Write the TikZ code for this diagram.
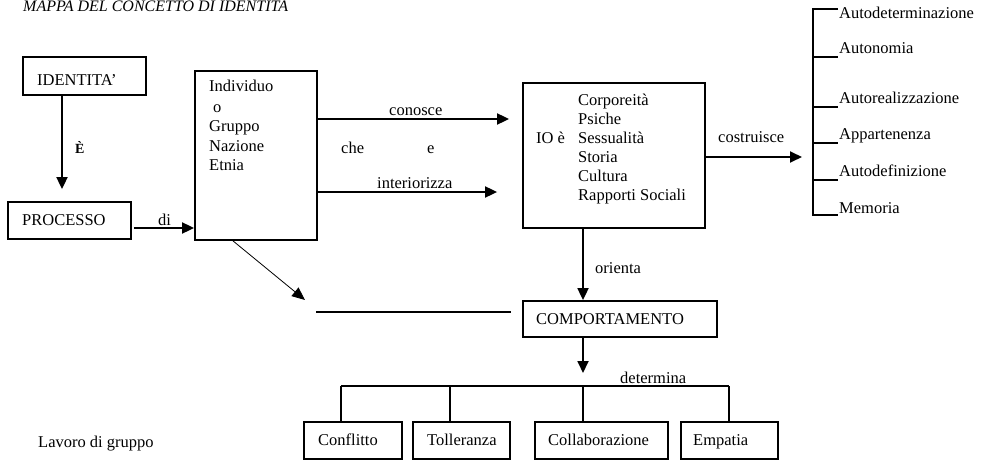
\documentclass[tikz,border=0pt]{standalone}
\usepackage{fontspec}
\setmainfont{Liberation Serif}
\usetikzlibrary{arrows.meta}
\begin{document}
\begin{tikzpicture}[x=1pt,y=-1pt,
  every node/.style={font=\fontsize{16.5}{19.7}\selectfont, inner sep=0pt, text=black},
  box/.style={draw, line width=1.8pt, inner sep=0pt},
  lbl/.style={anchor=base west},
  ln/.style={line width=1.8pt},
  arr/.style={line width=1.8pt, -{Triangle[length=12pt,width=11pt]}},
  thinarr/.style={line width=0.8pt, -{Triangle[length=13pt,width=11pt]}},
]
\useasboundingbox (0,0) rectangle (982,460);

% title
\node[lbl, font=\itshape\fontsize{16}{19}\selectfont] (title) at (23,12) {MAPPA DEL CONCETTO DI IDENTITA};

% boxes
\node[box, minimum width=123, minimum height=38] (idb) at (84.5,76) {};
\node[box, minimum width=123, minimum height=37] (proc) at (69.5,220.5) {};
\node[box, minimum width=122, minimum height=169] (indiv) at (256,155.5) {};
\node[box, minimum width=182, minimum height=145] (io) at (614,155.5) {};
\node[box, minimum width=194, minimum height=36] (comp) at (620,319) {};
\node[box, minimum width=98, minimum height=37] (conf) at (353,440.5) {};
\node[box, minimum width=97, minimum height=37] (toll) at (461.5,440.5) {};
\node[box, minimum width=133, minimum height=37] (coll) at (601.5,440.5) {};
\node[box, minimum width=97, minimum height=37] (emp) at (729.5,440.5) {};

% box texts
\node[lbl] (tidb) at (37,85) {IDENTITA’};
\node[lbl] (tproc) at (22,225) {PROCESSO};
\node[lbl] (ti1) at (209,92) {Individuo};
\node[lbl] (ti2) at (209,112) {\hspace{4pt}o};
\node[lbl] (ti3) at (209,131.5) {Gruppo};
\node[lbl] (ti4) at (209,151) {Nazione};
\node[lbl] (ti5) at (209,170.5) {Etnia};
\node[lbl] (tio) at (536,143) {IO è};
\node[lbl] (tl1) at (578,105) {Corporeità};
\node[lbl] (tl2) at (578,124) {Psiche};
\node[lbl] (tl3) at (578,143) {Sessualità};
\node[lbl] (tl4) at (578,162) {Storia};
\node[lbl] (tl5) at (578,181) {Cultura};
\node[lbl] (tl6) at (578,200) {Rapporti Sociali};
\node[lbl] (tcomp) at (536,324) {COMPORTAMENTO};
\node[lbl] (tconf) at (318,445) {Conflitto};
\node[lbl] (ttoll) at (427,445) {Tolleranza};
\node[lbl] (tcoll) at (548,445) {Collaborazione};
\node[lbl] (temp) at (693,445) {Empatia};

% free texts
\node[lbl, font=\bfseries\fontsize{14}{16}\selectfont] (le) at (75,153) {È};
\node[lbl] (ldi) at (158,225) {di};
\node[lbl] (lcon) at (389,115) {conosce};
\node[lbl] (lche) at (341,153) {che};
\node[lbl] (le2) at (427,153) {e};
\node[lbl] (lint) at (377,188) {interiorizza};
\node[lbl] (lcos) at (718,142) {costruisce};
\node[lbl] (lori) at (595,273) {orienta};
\node[lbl] (ldet) at (620,383) {determina};
\node[lbl] (llav) at (38,447) {Lavoro di gruppo};

% bracket list
\node[lbl] (b1) at (839,19) {Autodeterminazione};
\node[lbl] (b2) at (839,54) {Autonomia};
\node[lbl] (b3) at (839,103.5) {Autorealizzazione};
\node[lbl] (b4) at (839,139.5) {Appartenenza};
\node[lbl] (b5) at (839,176.5) {Autodefinizione};
\node[lbl] (b6) at (839,213) {Memoria};

% helper coordinates
\coordinate (xa) at (62,0);
\coordinate (ydi) at (0,228);
\coordinate (ycon) at (0,119);
\coordinate (yint) at (0,192);
\coordinate (ycos) at (0,157);
\coordinate (bk) at (813,0);
\coordinate (xo) at (583,0);
\coordinate (bar) at (583,386);
\coordinate (t1) at (341,386);
\coordinate (t2) at (450,386);
\coordinate (t4) at (729,386);
\coordinate (dx) at (233,0);
\coordinate (dtip) at (305,300);
\coordinate (l1) at (316,312);
\coordinate (l2) at (511,312);
\coordinate (k0) at (813,9);
\coordinate (k6) at (813,215);

% connectors
\draw[arr, shorten >=12pt] (idb.south -| xa) -- (proc.north -| xa);
\draw[arr, shorten <=2pt] (proc.east |- ydi) -- (indiv.west |- ydi);
\draw[arr, shorten >=13pt] (indiv.east |- ycon) -- (io.west |- ycon);
\draw[arr, shorten >=25pt] (indiv.east |- yint) -- (io.west |- yint);
\draw[arr, shorten >=11pt] (io.east |- ycos) -- (bk |- ycos);
\draw[arr] (io.south -| xo) -- (comp.north -| xo);
\draw[arr, shorten >=13pt] (comp.south -| xo) -- (bar);
\draw[thinarr] (indiv.south -| dx) -- (dtip);
\draw[ln] (l1) -- (l2);

% tree
\draw[ln] (t1) -- (t4);
\draw[ln] (t1) -- (conf.north -| t1);
\draw[ln] (t2) -- (toll.north -| t2);
\draw[ln] (bar) -- (coll.north -| bar);
\draw[ln] (t4) -- (emp.north -| t4);

% bracket
\draw[ln] ([xshift=25pt]k0) -- (k0) -- (k6) -- ([xshift=25pt]k6);
\foreach \yy in {57,107,143,180} \draw[ln] (813,\yy) -- (838,\yy);
\end{tikzpicture}
\end{document}
